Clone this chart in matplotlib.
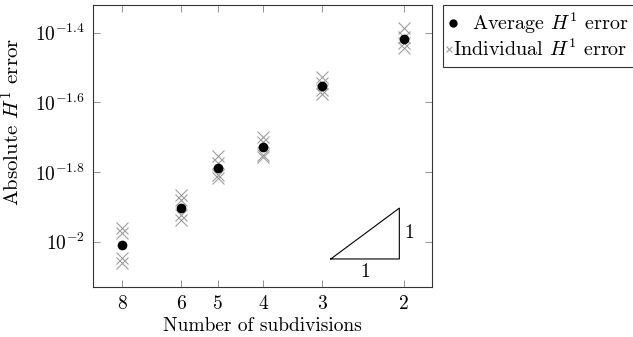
'''
  H1 error vs number of subdivisions
'''
import matplotlib.pyplot as plt
from matplotlib.lines import Line2D
from matplotlib.patches import Rectangle

plt.rcParams['font.family'] = 'serif'
plt.rcParams['font.serif'] = ['cmr10']
plt.rcParams['mathtext.fontset'] = 'cm'
plt.rcParams['axes.formatter.use_mathtext'] = True
plt.rcParams['axes.unicode_minus'] = False

# data (log10 of error)
n_sub = [8, 6, 5, 4, 3, 2]
avg_log = [-2.0095, -1.903, -1.788, -1.728, -1.552, -1.418]
indiv_log = [
    [-1.960, -1.976, -2.048, -2.062],
    [-1.866, -1.880, -1.923, -1.938],
    [-1.754, -1.775, -1.809, -1.818],
    [-1.700, -1.713, -1.752, -1.756],
    [-1.528, -1.545, -1.565, -1.576],
    [-1.386, -1.411, -1.430, -1.445],
]
ytick_exp = [-2, -1.8, -1.6, -1.4]
ytick_labels = [r'$10^{-2}$', r'$10^{-1.8}$', r'$10^{-1.6}$', r'$10^{-1.4}$']
legend_labels = [r'Average $H^1$ error', r'Individual $H^1$ error']

# slope triangle (x from, x to, log10 y at base)
tri_x = [2.87, 2.05]
tri_ylog = -2.05

FS = 14
W, H = 633, 337

def fx(px):
    return px / W

def fy(py):
    return 1 - py / H

fig = plt.figure(figsize=(6.33, 3.37), dpi=100)
ax = fig.add_axes([0.1474, 0.1484, 0.6825 - 0.1474, 0.985 - 0.1484])
ax.set_xscale('log')
ax.set_yscale('log')

for n, vals in zip(n_sub, indiv_log):
    ax.plot([n] * len(vals), [10 ** v for v in vals], 'x', color='0.62',
            markersize=9, markeredgewidth=0.8, linestyle='none')
ax.plot(n_sub, [10 ** v for v in avg_log], 'o', color='black', markersize=7,
        markeredgewidth=0, linestyle='none')

# slope-1 triangle
x0, x1 = tri_x
y0 = 10 ** tri_ylog
y1 = y0 * x0 / x1
ax.plot([x0, x1, x1, x0], [y0, y0, y1, y0], color='black', lw=0.8)
ax.text((x0 * x1) ** 0.5, y0 * 0.975, '1', ha='center', va='top', fontsize=FS)
ax.text(x1 * 0.975, (y0 * y1) ** 0.5, '1', ha='left', va='center', fontsize=FS)

ax.set_xlim(9.21, 1.746)
ax.set_ylim(10 ** -2.1305, 10 ** -1.3205)
ax.set_xticks(n_sub)
ax.set_xticklabels([str(n) for n in n_sub])
ax.xaxis.set_minor_locator(plt.NullLocator())
ax.set_yticks([10 ** e for e in ytick_exp])
ax.set_yticklabels(ytick_labels)
ax.yaxis.set_minor_locator(plt.NullLocator())
ax.tick_params(axis='both', which='major', direction='in', top=True, right=True,
               length=5, width=0.6, color='0.5', labelsize=FS, pad=6)
for s in ax.spines.values():
    s.set_linewidth(0.8)
    s.set_color('0.2')

ax.set_xlabel('Number of subdivisions', fontsize=FS, labelpad=3)
ax.set_ylabel(r'Absolute $H^1$ error', fontsize=15)
ax.yaxis.set_label_coords(-0.205, 0.585)

# legend box drawn by hand (pgfplots-style, running off the right edge)
fig.add_artist(Rectangle((fx(443), fy(66.7)), fx(700) - fx(443), fy(5) - fy(66.7),
                         transform=fig.transFigure, facecolor='white',
                         edgecolor='0.2', lw=0.8))
fig.add_artist(Line2D([fx(453)], [fy(23)], marker='o', color='black',
                      markersize=6, markeredgewidth=0, transform=fig.transFigure))
fig.add_artist(Line2D([fx(448.5)], [fy(49)], marker='x', color='0.62',
                      markersize=5, markeredgewidth=0.8,
                      transform=fig.transFigure))
fig.text(fx(472), fy(30), legend_labels[0], fontsize=14.5, va='baseline')
fig.text(fx(453), fy(56), legend_labels[1], fontsize=14.5, va='baseline')

plt.savefig('out.png', dpi=100)
